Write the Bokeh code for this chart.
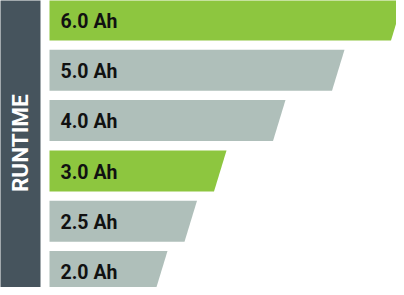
import numpy as np
from bokeh.plotting import figure
from bokeh.models import ColumnDataSource, Range1d
from bokeh.core.properties import value
from bokeh.embed import file_html
from bokeh.resources import INLINE

# Data
labels = ["6.0 Ah", "5.0 Ah", "4.0 Ah", "3.0 Ah", "2.5 Ah", "2.0 Ah"]
runtime = [6.0, 5.0, 4.0, 3.0, 2.5, 2.0]   # relative runtime (bar length)
highlight = [True, False, False, True, False, False]
title_text = "RUNTIME"

GREEN = "#8dc63f"
GRAY = "#afbfba"
DARK = "#46545d"

W, H = 396, 287
px_per_unit = 59.0
row_px = 50.3
bar_left_px = 49.0      # bar start, from figure left
row0_center_px = 19.5   # first row centre, from figure top

x0 = -bar_left_px / px_per_unit
x1 = (W - bar_left_px) / px_per_unit
y_top = -row0_center_px / row_px
y_bot = (H - row0_center_px) / row_px

p = figure(width=W, height=H, output_backend="svg", toolbar_location=None,
           x_range=Range1d(x0, x1), y_range=Range1d(y_bot, y_top),
           min_border=0, min_border_left=0, min_border_right=0,
           min_border_top=0, min_border_bottom=0)
p.axis.visible = False
p.grid.visible = False
p.outline_line_color = None
p.background_fill_color = "white"
p.border_fill_color = "white"

half = 20.5 / row_px
slant = 12.5 / px_per_unit
xs, ys, cols = [], [], []
for i, v in enumerate(runtime):
    xs.append([0, v, v - slant, 0])
    ys.append([i - half, i - half, i + half, i + half])
    cols.append(GREEN if highlight[i] else GRAY)
src = ColumnDataSource(dict(xs=xs, ys=ys, color=cols))
p.patches("xs", "ys", source=src, fill_color="color", line_color=None)

# label text
lsrc = ColumnDataSource(dict(x=[11.0 / px_per_unit] * len(labels),
                             y=[i + 0.025 for i in range(len(labels))],
                             t=labels))
p.text("x", "y", text="t", source=lsrc, text_font=value("Roboto"),
       text_font_style="bold", text_font_size="19.5px", text_color="#111111",
       text_align="left", text_baseline="middle")

# left dark panel
pl = (-51.0) / px_per_unit
pr = (-9.0) / px_per_unit
pt = (-20.5) / row_px
p.quad(left=[pl], right=[pr], top=[pt], bottom=[y_bot + 1], fill_color=DARK, line_color=None)

p.text(x=[(pl + pr) / 2 + 0.01], y=[2.45], text=[title_text], angle=np.pi / 2,
       text_font=value("Roboto"), text_font_style="bold",
       text_font_size="22.5px", text_color="white",
       text_align="center", text_baseline="middle")

open("out.html", "w").write(file_html(p, INLINE))
